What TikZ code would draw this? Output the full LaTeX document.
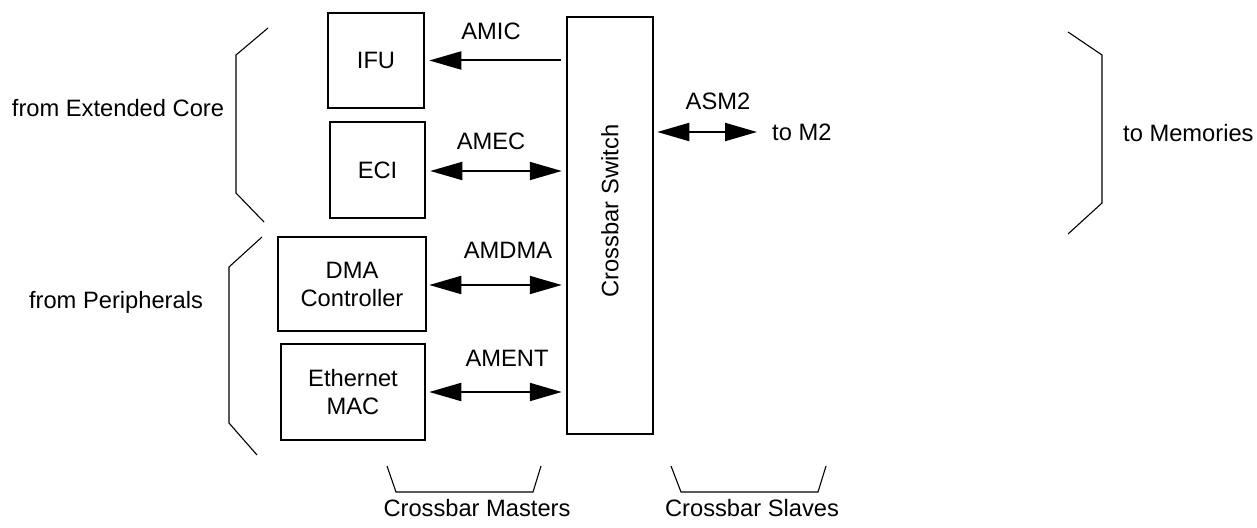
\documentclass[tikz,border=0pt]{standalone}
\usepackage{fontspec}
\setmainfont{Liberation Sans}
\usetikzlibrary{arrows.meta}
\begin{document}
\begin{tikzpicture}[x=1pt,y=-1pt,
  every node/.style={font=\fontsize{23.7}{28}\selectfont, inner sep=0pt, align=center},
  blk/.style={draw, line width=2.5pt},
  bus/.style={line width=2pt, -{Triangle[length=32pt,width=18pt]}},
  dbus/.style={line width=2pt, {Triangle[length=32pt,width=18pt]}-{Triangle[length=32pt,width=18pt]}},
  brace/.style={line width=1.1pt}]
\useasboundingbox (0,0) rectangle (1257,527);
% blocks
\node[blk, minimum width=96pt, minimum height=95pt] (ifu) at (376,60.5) {IFU};
\node[blk, minimum width=95pt, minimum height=96pt] (eci) at (377.5,170) {ECI};
\node[blk, minimum width=148pt, minimum height=94pt] (dma) at (352,284) {DMA\\Controller};
\node[blk, minimum width=144pt, minimum height=96pt] (eth) at (353,392) {Ethernet\\MAC};
\node[blk, minimum width=86pt, minimum height=417pt] (sw) at (610,225.5) {};
\node[rotate=90] (swl) at (610,211) {Crossbar Switch};
% connectors
\draw[bus, shorten <=5pt, shorten >=4pt] (sw.west |- ifu.east) -- (ifu.east);
\draw[dbus, shorten <=4pt, shorten >=4pt] (eci.east |- 0,171) -- (sw.west |- 0,171);
\draw[dbus, shorten <=2pt, shorten >=4pt] (dma.east |- 0,285) -- (sw.west |- 0,285);
\draw[dbus, shorten <=3pt, shorten >=4pt] (eth.east |- 0,392) -- (sw.west |- 0,392);
\node[anchor=west] (m2) at (772,132) {to M2};
\draw[dbus, shorten <=3pt, shorten >=15pt] (sw.east |- m2.west) -- (m2.west);
% bus labels
\node (amic) at (491,31) {AMIC};
\node (amec) at (491,141) {AMEC};
\node (amdma) at (508,250) {AMDMA};
\node (ament) at (507,358) {AMENT};
\node (asm) at (718,101) {ASM2};
% braces
\draw[brace] (268,28) -- (236,55) -- (236,193) -- (264,222);
\node (core) at (118,108) {from Extended Core};
\draw[brace] (262,237) -- (229,267) -- (229,423) -- (257,455);
\node (peri) at (116,302) {from Peripherals};
\draw[brace] (1068,32) -- (1102,55) -- (1102,203) -- (1068,234);
\node[anchor=west] (mem) at (1123,133) {to Memories};
\draw[brace] (387,466) -- (396,492) -- (533,492) -- (541,466);
\node (masters) at (477,508) {Crossbar Masters};
\draw[brace] (671,466) -- (681,492) -- (818,492) -- (826,466);
\node (slaves) at (752,508) {Crossbar Slaves};
\end{tikzpicture}
\end{document}
